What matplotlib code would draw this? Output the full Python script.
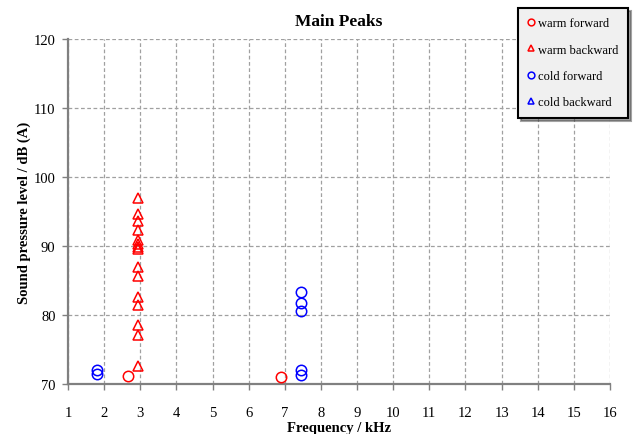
import matplotlib
matplotlib.use("Agg")
import matplotlib.pyplot as plt
from matplotlib.ticker import MultipleLocator

plt.rcParams['font.family'] = ['Liberation Serif', 'DejaVu Serif']

# data
warm_forward_x = [2.66, 6.9]
warm_forward_y = [71.1, 71.0]
warm_backward_x = [2.95] * 15
warm_backward_y = [97.0, 94.6, 93.6, 92.3, 90.8, 90.3, 89.9, 89.5,
                   87.0, 85.6, 82.6, 81.4, 78.5, 77.1, 72.6]
cold_forward_x = [1.79, 1.79, 7.45, 7.45, 7.45, 7.45, 7.45]
cold_forward_y = [72.1, 71.5, 83.3, 81.7, 80.6, 72.0, 71.3]
cold_backward_x = []
cold_backward_y = []

fig = plt.figure(figsize=(6.34, 4.35), dpi=100)
ax = fig.add_axes([68/634, 1-385/435, (610-68)/634, (385-40)/435])

ms = 7.5
mew = 1.1
ax.plot(warm_forward_x, warm_forward_y, 'o', mfc='none', mec='#ff0000', ms=ms, mew=mew,
        label='warm forward', zorder=3)
ax.plot(warm_backward_x, warm_backward_y, '^', mfc='none', mec='#ff0000', ms=ms, mew=mew,
        label='warm backward', zorder=3)
ax.plot(cold_forward_x, cold_forward_y, 'o', mfc='none', mec='#0000ff', ms=ms, mew=mew,
        label='cold forward', zorder=3)
ax.plot(cold_backward_x, cold_backward_y, '^', mfc='none', mec='#0000ff', ms=ms, mew=mew,
        label='cold backward', zorder=3)

ax.set_xlim(1, 16)
ax.set_ylim(70, 120)
ax.xaxis.set_major_locator(MultipleLocator(1))
ax.yaxis.set_major_locator(MultipleLocator(10))

ax.grid(True, color='#a0a0a0', linestyle=(0, (3, 2)), linewidth=0.9)
ax.set_axisbelow(True)
for s in ['top', 'right']:
    ax.spines[s].set_visible(False)
for s in ['left', 'bottom']:
    ax.spines[s].set_color('#808080')
    ax.spines[s].set_linewidth(1.6)
ax.tick_params(axis='both', colors='#808080', labelcolor='black', labelsize=10.5,
               length=4, width=1, direction='out')
ax.tick_params(axis='x', pad=12)
ax.tick_params(axis='y', pad=5)

ax.set_title('Main Peaks', fontsize=12.5, fontweight='bold', pad=10)
ax.set_xlabel('Frequency / kHz', fontsize=10.5, fontweight='bold', labelpad=1)
ax.set_ylabel('Sound pressure level / dB (A)', fontsize=10.5, fontweight='bold', labelpad=2)

leg = fig.legend(loc='upper left', bbox_to_anchor=(518/634, 1-9/435),
                 bbox_transform=fig.transFigure, fontsize=9, markerscale=0.65,
                 handlelength=0.5, handletextpad=0.35, labelspacing=1.15,
                 borderpad=0.75, borderaxespad=0, fancybox=False, shadow=True,
                 framealpha=1, facecolor='#f0f0f0', edgecolor='black')
leg.get_frame().set_linewidth(1.5)

fig.savefig('out.png', dpi=100)
